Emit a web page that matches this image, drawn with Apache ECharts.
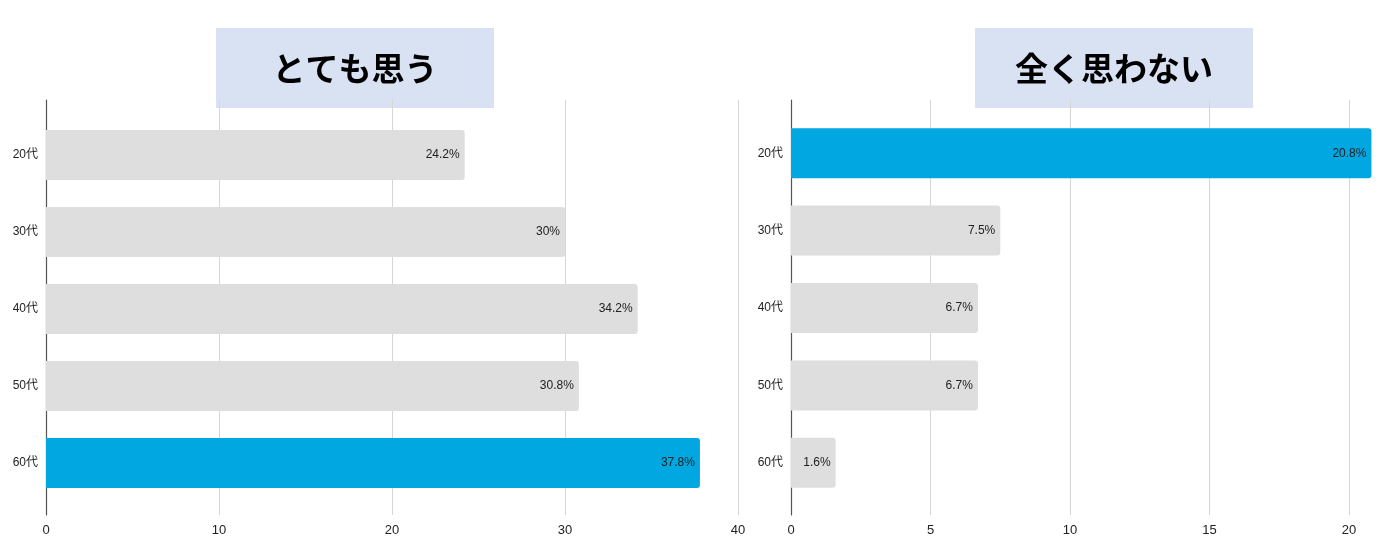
<!DOCTYPE html>
<html>
<head>
<meta charset="utf-8">
<script src="https://cdn.jsdelivr.net/npm/echarts@6/dist/echarts.min.js"></script>
<style>html,body{margin:0;padding:0;background:#fff}#c{width:1382px;height:552px}</style>
</head>
<body>
<div id="c"></div>
<script>
const categories = ['20代', '30代', '40代', '50代', '60代'];
const stronglyAgree = [24.2, 30, 34.2, 30.8, 37.8];
const notAtAll = [20.8, 7.5, 6.7, 6.7, 1.6];
const titles = ['とても思う', '全く思わない'];
const leftTicks = {min: 0, max: 40, interval: 10, maxLine: true};
const rightTicks = {min: 0, max: 21, interval: 5, maxLine: false};

const FONT = '"Liberation Sans", "Noto Sans CJK JP", sans-serif';
const BLUE = '#00a7e1';
const GRAY = '#dedede';

function colored(arr) {
  const m = Math.max(...arr);
  return arr.map(v => ({value: v, itemStyle: {color: v === m ? BLUE : GRAY}}));
}

const chart = echarts.init(document.getElementById('c'));
const bgX = (t) => ({
  type: 'value', min: t.min, max: t.max, interval: t.interval,
  axisLine: {show: false}, axisTick: {show: false},
  splitLine: {show: true, showMaxLine: t.maxLine, lineStyle: {color: '#d6d6d6', width: 1}},
  axisLabel: {color: '#222', fontSize: 13, fontFamily: FONT, margin: 9,
    formatter: v => (v % t.interval === 0 ? String(v) : '')}
});
const fgX = (t) => ({type: 'value', min: t.min, max: t.max, interval: t.interval, show: false});
const bgY = {
  type: 'value', min: 0, max: 1,
  axisLine: {show: true, lineStyle: {color: '#555', width: 1.2}},
  axisTick: {show: false}, axisLabel: {show: false}, splitLine: {show: false}
};
const fgY = {
  type: 'category', data: categories, inverse: true,
  axisLine: {show: false}, axisTick: {show: false}, splitLine: {show: false},
  axisLabel: {color: '#222', fontSize: 12, fontFamily: FONT, margin: 8}
};
const barSeries = (data, idx) => ({
  type: 'bar', xAxisIndex: idx, yAxisIndex: idx, data: colored(data),
  barWidth: 50,
  itemStyle: {borderRadius: [0, 3, 3, 0]},
  label: {show: true, position: 'insideRight', distance: 5, color: '#222',
    fontSize: 12, fontFamily: FONT, formatter: p => p.value + '%'}
});
const titleBox = (cx, text) => ({
  type: 'group', left: cx - 139, top: 28,
  children: [
    {type: 'rect', shape: {x: 0, y: 0, width: 278, height: 80}, style: {fill: '#d9e2f3'}},
    {type: 'text', x: 139, y: 40, style: {text: text, fill: '#000', font: 'bold 33px "Noto Sans CJK JP", sans-serif',
      align: 'center', verticalAlign: 'middle'}}
  ]
});

chart.setOption({
  animation: false,
  grid: [
    {left: 46, right: 644, top: 100, bottom: 37},
    {left: 46, right: 644, top: 116.5, height: 385},
    {left: 791, right: 5, top: 100, bottom: 37},
    {left: 791, right: 5, top: 114.5, height: 387}
  ],
  xAxis: [
    Object.assign(bgX(leftTicks), {gridIndex: 0}),
    Object.assign(fgX(leftTicks), {gridIndex: 1}),
    Object.assign(bgX(rightTicks), {gridIndex: 2}),
    Object.assign(fgX(rightTicks), {gridIndex: 3})
  ],
  yAxis: [
    Object.assign({}, bgY, {gridIndex: 0}),
    Object.assign({}, fgY, {gridIndex: 1}),
    Object.assign({}, bgY, {gridIndex: 2}),
    Object.assign({}, fgY, {gridIndex: 3})
  ],
  series: [barSeries(stronglyAgree, 1), barSeries(notAtAll, 3)],
  graphic: [titleBox(355, titles[0]), titleBox(1114, titles[1])]
});
</script>
</body>
</html>
